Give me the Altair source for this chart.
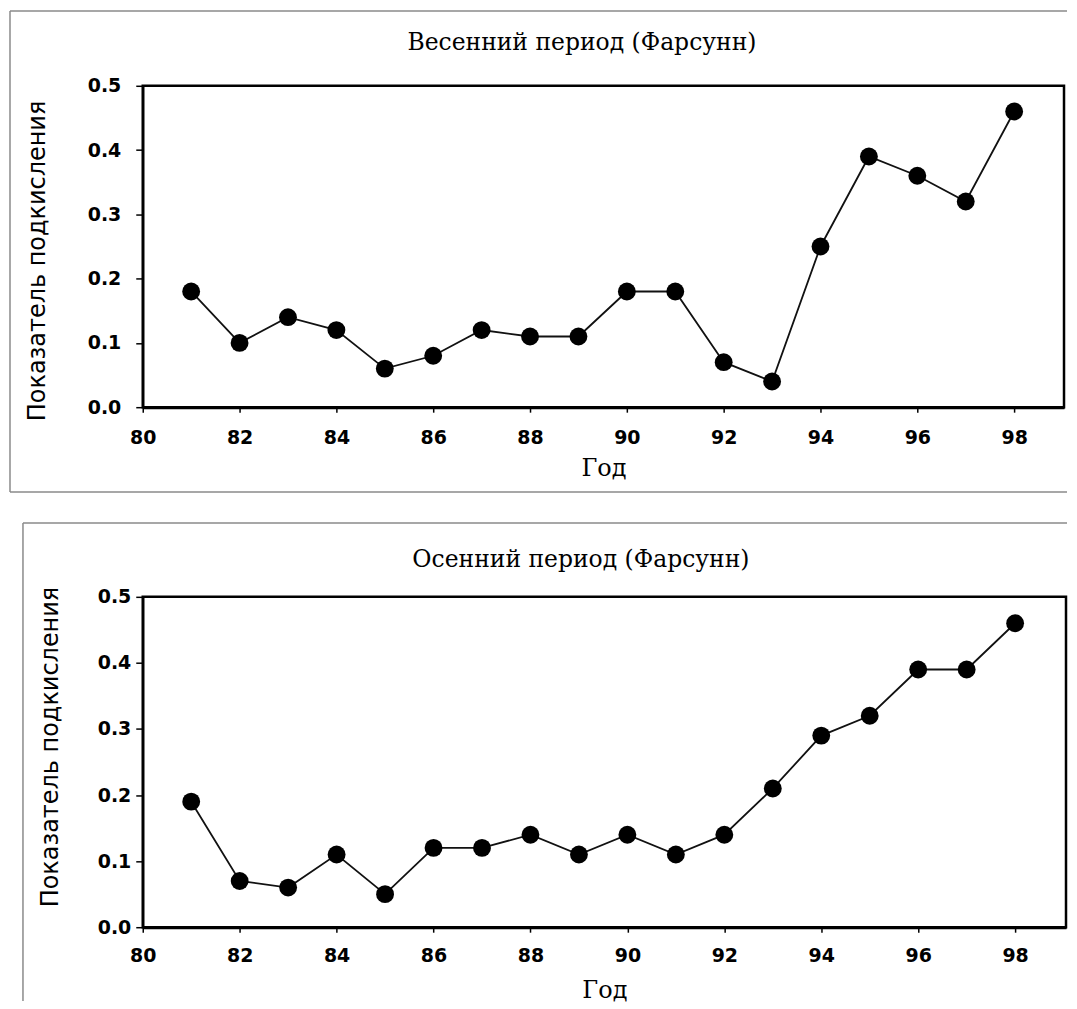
import altair as alt
import pandas as pd

# ---- data ----
years = list(range(81, 99))
spring = [0.18, 0.10, 0.14, 0.12, 0.06, 0.08, 0.12, 0.11, 0.11,
          0.18, 0.18, 0.07, 0.04, 0.25, 0.39, 0.36, 0.32, 0.46]
autumn = [0.19, 0.07, 0.06, 0.11, 0.05, 0.12, 0.12, 0.14, 0.11,
          0.14, 0.11, 0.14, 0.21, 0.29, 0.32, 0.39, 0.39, 0.46]
panel_titles = ["Весенний период (Фарсунн)", "Осенний период (Фарсунн)"]
x_title = "Год"
y_title = "Показатель подкисления"
x_ticks = list(range(80, 99, 2))
y_ticks = [0.0, 0.1, 0.2, 0.3, 0.4, 0.5]

one = pd.DataFrame({"t": [0]})
BORDER = "#8a8a8a"


def panel(values, title, g):
    w, h = g["w"], g["h"]
    df = pd.DataFrame({"year": years, "value": values})
    x = alt.X(
        "year:Q",
        scale=alt.Scale(domain=[80, g["xmax"]], nice=False, zero=False),
        axis=alt.Axis(
            values=x_ticks, format="d", title=x_title,
            titleFont="DejaVu Serif", titleFontSize=24, titleFontWeight="normal",
            titleColor="black", titleY=g["xty"], titleBaseline="middle",
            labelFont="DejaVu Sans", labelFontWeight="bold", labelFontSize=19,
            labelColor="black", labelBaseline="middle", labelPadding=g["xlp"],
            labelFlush=False, labelOverlap=False,
            tickSize=5, tickWidth=1.5, tickColor="black",
            domainColor="black", domainWidth=3, grid=False,
        ),
    )
    y = alt.Y(
        "value:Q",
        scale=alt.Scale(domain=[0, 0.5], nice=False, zero=False),
        axis=alt.Axis(
            values=y_ticks, format=".1f", title=y_title,
            titleFont="DejaVu Sans", titleFontSize=24, titleFontWeight="normal",
            titleColor="black", titleX=g["ytx"], titleY=g["yty"],
            titleBaseline="middle",
            labelFont="DejaVu Sans", labelFontWeight="bold", labelFontSize=19,
            labelColor="black", labelPadding=g["ylp"], labelFlush=False,
            tickSize=7, tickWidth=1.5, tickColor="black",
            domainColor="black", domainWidth=2.5, grid=False,
        ),
    )
    base = alt.Chart(df)
    line = base.mark_line(color="#111111", strokeWidth=1.8).encode(x=x, y=y)
    pts = base.mark_circle(color="black", opacity=1, size=320).encode(x=x, y=y)

    tdf = pd.DataFrame({"label": [title]})
    ttl = alt.Chart(tdf).mark_text(
        font="DejaVu Serif", fontSize=23.5, color="black",
        align="center", baseline="middle",
    ).encode(x=alt.value(g["tx"]), y=alt.value(g["ty"]), text="label:N")

    deco = []
    deco.append(alt.Chart(one).mark_rule(color=BORDER, strokeWidth=1.5).encode(
        x=alt.value(g["bl"]), x2=alt.value(g["br"]), y=alt.value(g["bt"])))
    deco.append(alt.Chart(one).mark_rule(color=BORDER, strokeWidth=1.5).encode(
        x=alt.value(g["bl"]), y=alt.value(g["bt"]), y2=alt.value(g["bb"])))
    if g.get("bottom_line"):
        deco.append(alt.Chart(one).mark_rule(color=BORDER, strokeWidth=1.5).encode(
            x=alt.value(g["bl"]), x2=alt.value(g["br"]), y=alt.value(g["bb"])))

    return alt.layer(*deco, line, pts, ttl).properties(
        width=w, height=h,
        view=alt.ViewBackground(stroke="black", strokeWidth=2.5),
    )


# plot areas share the same left edge (page x ~142)
g_top = dict(w=923, h=322, xmax=99.03, xty=61, xlp=25, ylp=15,
             ytx=-105, yty=175, tx=440, ty=-43,
             bl=-133, br=926, bt=-75, bb=407, bottom_line=True)
g_bot = dict(w=925, h=331, xmax=99.05, xty=63, xlp=23, ylp=5,
             ytx=-92, yty=150, tx=439, ty=-37,
             bl=-120, br=926, bt=-74, bb=405)

top = panel(spring, panel_titles[0], g_top)
bot = panel(autumn, panel_titles[1], g_bot)

chart = alt.vconcat(top, bot, spacing=27).properties(padding=0).configure_view(
    strokeWidth=0
).configure(background="white")

chart.save("out.html", embed_options={"renderer": "svg", "actions": False})
